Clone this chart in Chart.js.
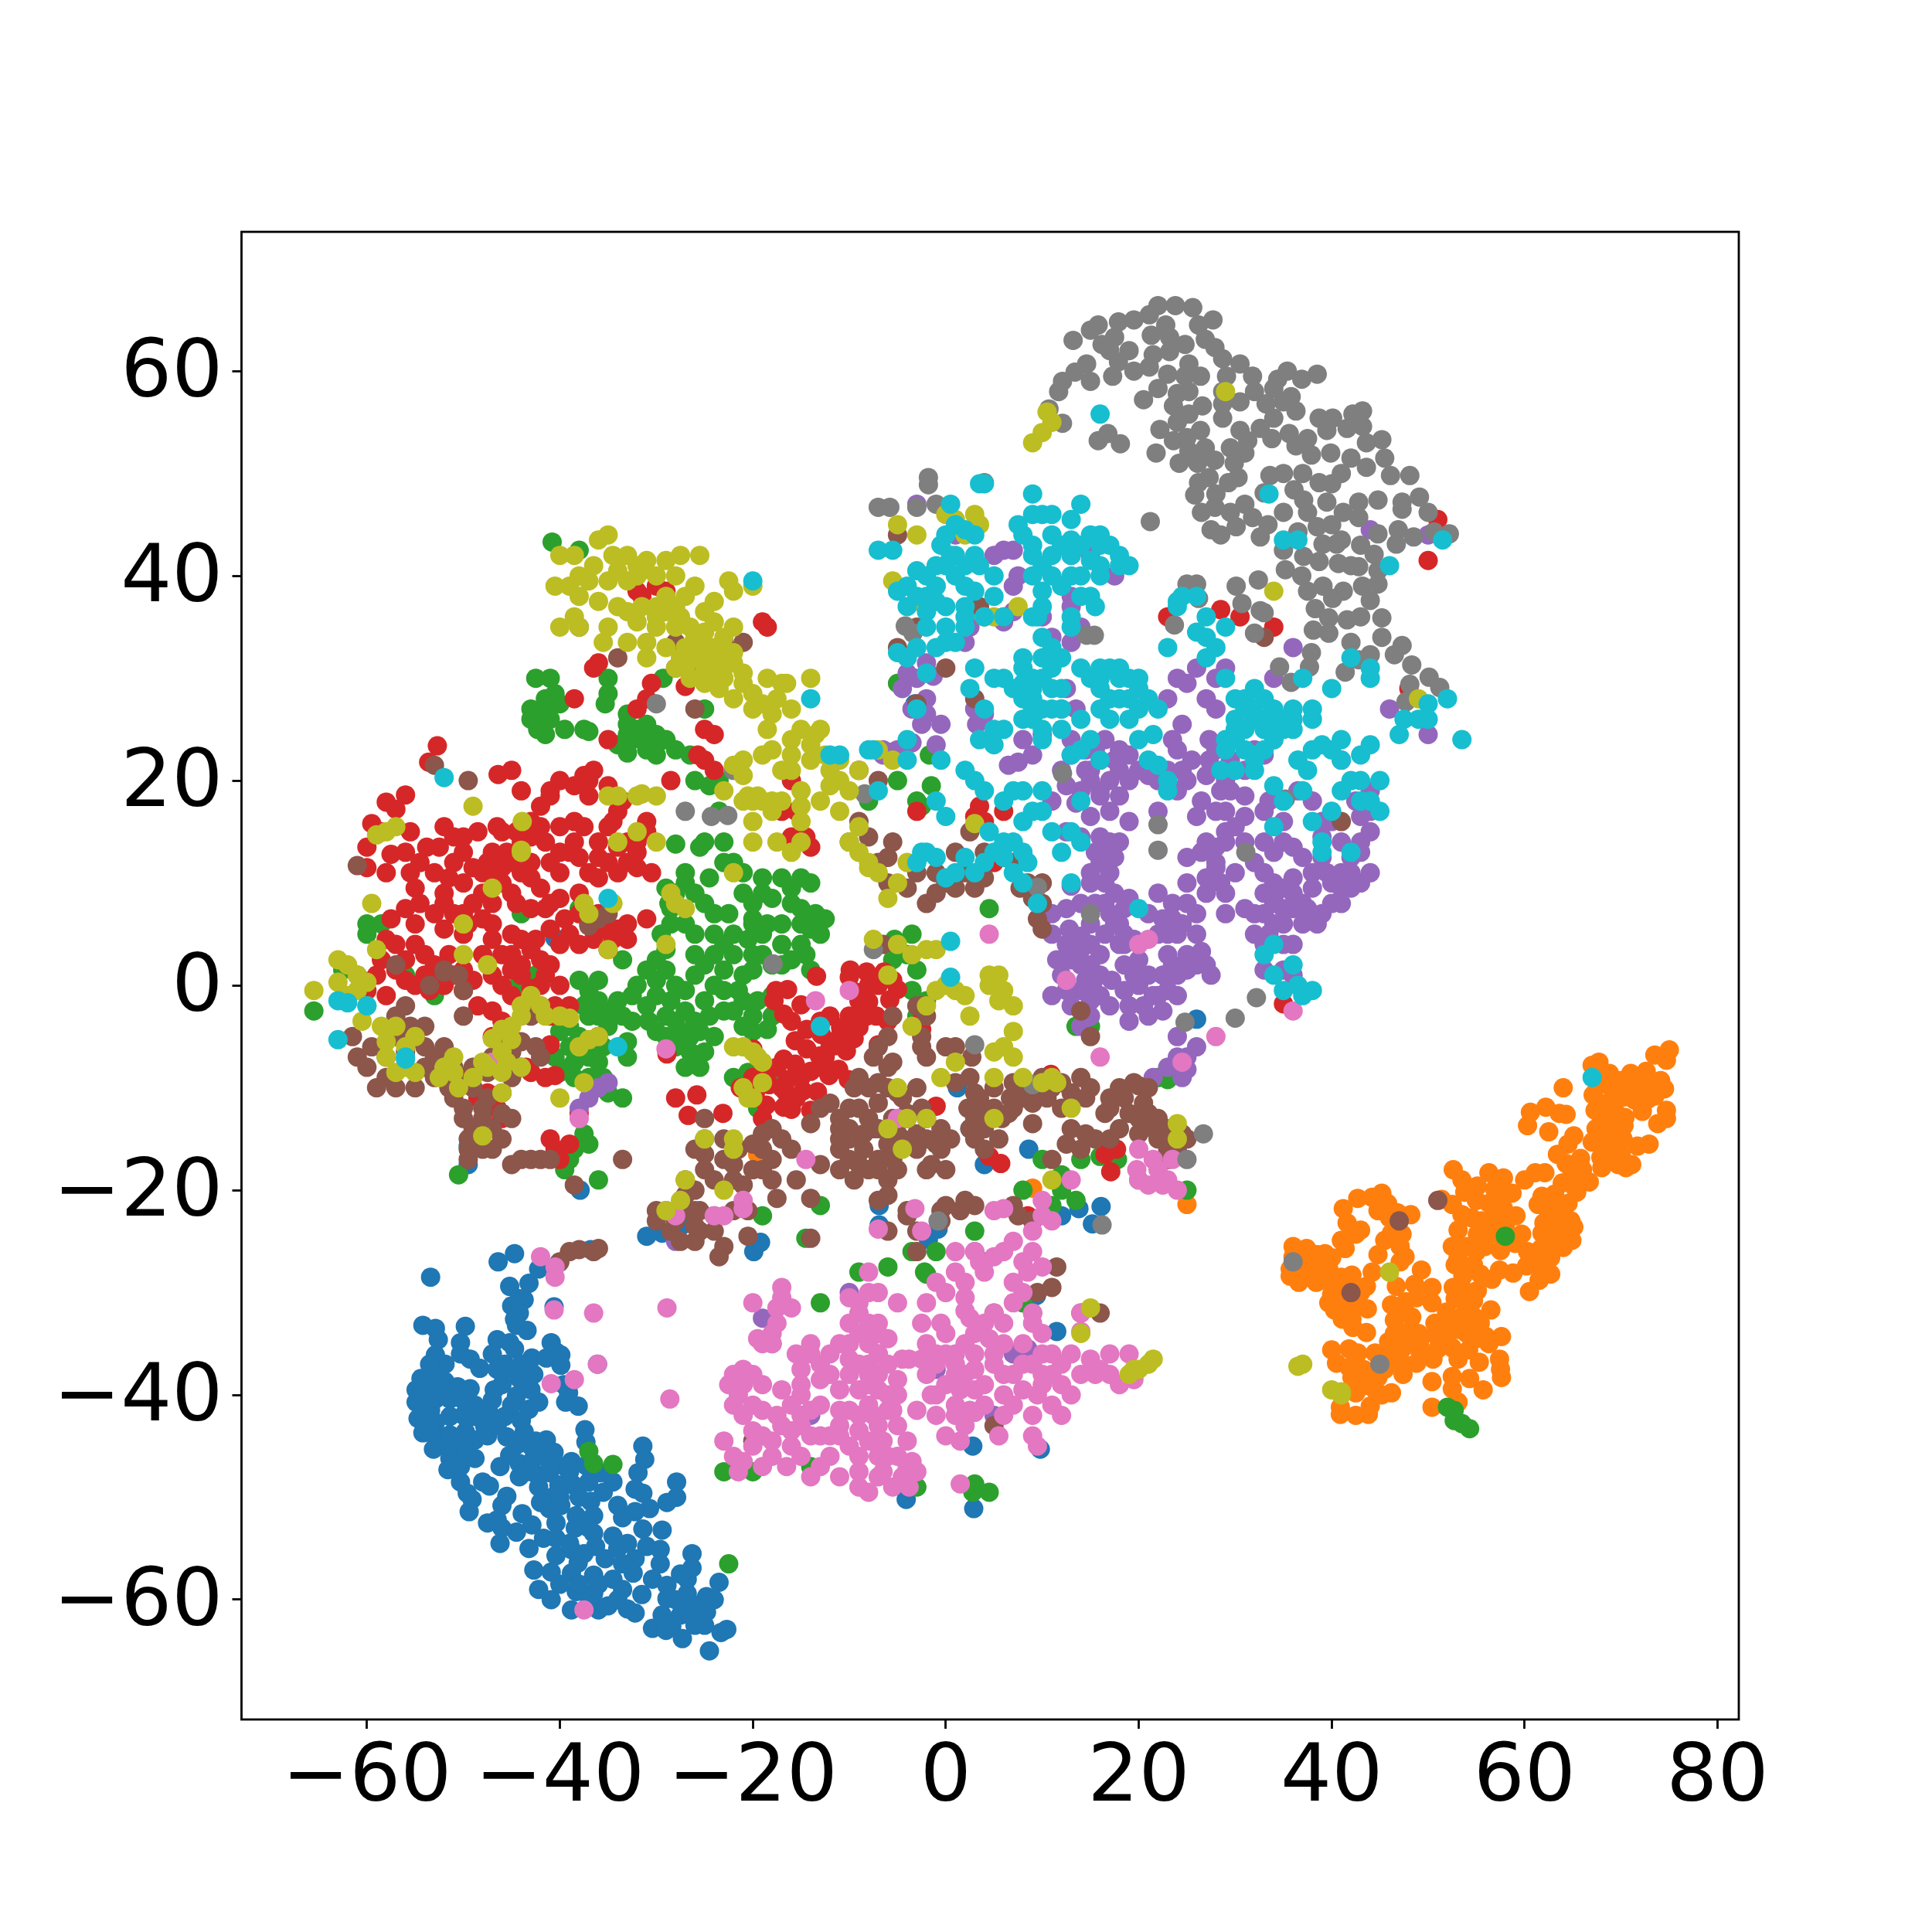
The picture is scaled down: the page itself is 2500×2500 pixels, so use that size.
<!DOCTYPE html>
<html>
<head>
<meta charset="utf-8">
<script src="https://cdn.jsdelivr.net/npm/chart.js@4"></script>
<style>body{margin:0;background:#fff}</style>
</head>
<body>
<canvas id="tsne" width="2500" height="2500"></canvas>
<script>
const xTicks = [-60,-40,-20,0,20,40,60,80];
const yTicks = [-60,-40,-20,0,20,40,60];

const blue = [[-44.7,-26.2],[-46.4,-27],[-42.2,-27.7],[-40.1,-27.1],[-36.8,-25.8],[-53.4,-28.5],[-43.2,-29.1],[-45.2,-29.4],[-44.2,-30.6],[-45,-31.3],[-43.7,-30.7],[-44.2,-32],[-44.7,-32.6],[-43.4,-33.7],[-44.5,-33.2],[-54.2,-33.2],[-52.9,-33.5],[-52.6,-34.6],[-49.8,-33.3],[-50.3,-34.9],[-50.3,-36],[-49.3,-36.5],[-52.9,-36.1],[-51.9,-37],[-46.5,-34.6],[-45.2,-34.9],[-47,-36],[-48.3,-37.4],[-45.7,-37],[-44.7,-35.5],[-40.9,-34.9],[-40.4,-35.8],[-42.9,-36.4],[-41.4,-36.4],[-39.9,-36.1],[-39.9,-37.1],[-42.7,-38],[-44.2,-38.4],[-46.8,-39.5],[-46,-39],[-44.5,-40.1],[-45,-41],[-42.2,-40.7],[-43.2,-41.4],[-39.6,-39],[-39.1,-39.8],[-39.4,-40.7],[-38.1,-41.1],[-54.4,-38.4],[-52.9,-37.8],[-54.9,-39.5],[-54.9,-40.7],[-53.4,-39.2],[-51.9,-38.7],[-50.6,-39.2],[-49.3,-39.4],[-52.9,-40.4],[-51.4,-40.4],[-53.4,-41.5],[-54.7,-42.3],[-52.9,-42.7],[-51.4,-42.1],[-54.2,-43.7],[-52.9,-44.1],[-53.1,-45.3],[-51.4,-43.9],[-48.8,-41],[-48.8,-42.1],[-47.3,-41.8],[-45.7,-42.1],[-49.8,-43.6],[-47.8,-43],[-48.8,-44.4],[-50.3,-45.3],[-48.8,-46.2],[-51.4,-46.2],[-51.6,-47.3],[-50.3,-47],[-50.3,-48.5],[-49.6,-49.6],[-48,-48.5],[-47.3,-48.9],[-49.1,-50.2],[-49.4,-51.4],[-45.5,-44.1],[-43.7,-43.6],[-41.4,-44.4],[-44.5,-44.9],[-40.6,-45.6],[-45.2,-45.9],[-46.2,-47],[-44.2,-46.7],[-42.7,-46.2],[-38.8,-46.5],[-37.3,-46.9],[-37.4,-43.4],[-37.3,-44.6],[-35.8,-47.6],[-34.5,-48.5],[-31.4,-45],[-31.2,-46.3],[-31.9,-47.6],[-27.9,-48.5],[-32.2,-49.2],[-31.4,-49.6],[-27.9,-50],[-28.9,-50.5],[-30.7,-51.1],[-42.7,-47.6],[-41.1,-47.6],[-44.2,-48],[-40.1,-48.8],[-38.6,-48.8],[-42.2,-49],[-40.6,-49.9],[-41.1,-51.1],[-39.9,-50.8],[-36.8,-50.4],[-36.5,-51.8],[-38.3,-51.8],[-40.4,-52.5],[-38.4,-53],[-45.5,-49.9],[-46,-50.8],[-43.9,-51.6],[-46.5,-52.2],[-47.5,-52.5],[-42.9,-52.7],[-44.5,-53.4],[-46.2,-54.5],[-43.2,-55],[-41.7,-54],[-40.4,-54],[-36.5,-53.5],[-34.5,-53.8],[-33.5,-52],[-34,-50.8],[-32.2,-51.4],[-31.4,-53.1],[-29.4,-53.2],[-29.6,-55.1],[-32.2,-56],[-29.6,-56.5],[-26.3,-55.5],[-26.3,-56.9],[-38.8,-55.1],[-40.4,-55.7],[-36.3,-54.8],[-35.3,-56],[-38.1,-56.4],[-42.7,-57.1],[-40.9,-57.3],[-38.8,-57.4],[-36.5,-57.6],[-34.5,-58],[-32.4,-57.4],[-30.4,-58],[-28.9,-58.6],[-26.8,-58],[-23.5,-58.3],[-42.2,-59],[-40.9,-60],[-38.3,-59.2],[-36.5,-59.4],[-35,-60.6],[-38.8,-61],[-36,-61],[-33,-60.9],[-32.2,-61.3],[-28.9,-59.9],[-26.8,-59.4],[-24.8,-59.7],[-24,-60],[-29.4,-61.5],[-26.8,-60.9],[-24.8,-61.2],[-30.4,-62.8],[-28.4,-62.6],[-26,-62.5],[-27.3,-63.8],[-23.3,-63.2],[-22.7,-62.9],[-24.5,-65],[-4.1,-50.2],[2.9,-51.1],[2.8,-45],[9.8,-45.3],[11.5,-33.8],[-1.8,-24.8],[15.2,-23.3],[16.1,-21.6],[13.8,-21.8],[-27.3,-23.4],[-29.4,-24.2],[-19.9,-26],[-19.2,-25.1],[-6.9,-23.4],[12,-22.5],[9.4,-30.3],[-40.6,-31.4],[-36.1,-37],[-40.5,4.6],[-49.5,-17.5],[-49.5,-15.7],[-37.9,-20],[1.2,-10],[26,-3.3],[-3.2,27.5],[2.5,-14],[8.6,-16],[4,-17.5],[-0.8,-23.8],[-6.9,-21.5],[-31,-24.5],[-53.5,-37],[-52,-39.5],[-53.5,-40.5],[-50,-40.5],[-50,-42],[-53.5,-43],[-51.5,-45],[-49.5,-46],[-50,-44.5],[-47,-40.5],[-47.5,-44],[-46.5,-43],[-44,-42.5],[-43,-45],[-41.5,-46],[-42.5,-44.5],[-39.5,-47],[-41,-47],[-43.5,-47.5],[-39,-47.5],[-37,-48.5],[-40,-50],[-38,-50],[-35.5,-49.5],[-42,-50.5],[-37,-53],[-39,-54.5],[-37.5,-55.5],[-34,-55],[-33,-54.5],[-31,-54.8],[-33.5,-56.5],[-36,-58.5],[-40,-58.5],[-38,-58.5],[-33.5,-59],[-31.5,-59.5],[-34,-60],[-37,-60.5],[-27.5,-57.5],[-27.5,-61.5],[-25.5,-60.5],[-25,-62.5],[-26.5,-61.5],[-28,-60],[-29,-63],[-45,-37.5],[-44,-37],[-43,-39.5],[-46.5,-37.5],[-46,-53]];

const orange = [[75,-6.3],[73.5,-6.8],[74.7,-7.3],[67.7,-7.5],[67,-7.8],[68.8,-8.6],[71,-8.6],[70,-9.3],[72.6,-8.4],[74.1,-9.3],[74.5,-10.1],[73.1,-9.8],[71.6,-9.8],[69.1,-10.1],[67.6,-9.8],[67.1,-10.7],[70.3,-10.9],[72.8,-11.1],[71.4,-11.2],[68.5,-11.5],[67.3,-12.2],[72.2,-12.3],[70.4,-12.9],[68,-12.9],[74.7,-12.2],[74.7,-13],[73.8,-13.5],[67.4,-14],[68.8,-14],[70.3,-13.7],[67,-15.3],[68.9,-15.1],[70.2,-15],[72.9,-15.5],[71.7,-15.7],[69.7,-17.5],[70.5,-17.8],[71.1,-17.5],[68,-17.8],[67.9,-16.8],[64,-10],[60.6,-12.4],[62.2,-11.9],[63.6,-12.5],[64.3,-12.6],[60.3,-13.7],[62.5,-14.3],[65.1,-14.7],[64.5,-15.5],[63.4,-16.5],[65.8,-16.9],[64.3,-17.4],[66.7,-19.2],[64.9,-18.5],[63.9,-19.3],[65.4,-20.2],[62.1,-18.3],[61.1,-18.3],[60,-19],[61.8,-20.6],[63.1,-20.4],[61.4,-21.4],[64.5,-21.3],[62.8,-21.8],[62,-23.2],[64.8,-23],[63.3,-23.5],[65.1,-23.6],[61.8,-24.2],[63.1,-24.9],[64.9,-24.9],[64,-25.6],[61.7,-25.7],[60.3,-26],[62.7,-26.6],[60.2,-27.4],[62.7,-28.2],[61.5,-28.8],[60.5,-29.9],[58.8,-28.1],[57.4,-27.8],[56.6,-28.7],[52.6,-18],[53.5,-19],[56.3,-18.3],[57.8,-18.8],[51.4,-20.9],[52.5,-21.4],[53.8,-20.2],[55.1,-19.6],[56.9,-19.9],[58.7,-20.3],[53.5,-22.4],[54.5,-22.7],[56.3,-21.3],[57.8,-21.8],[59.1,-22.5],[56.6,-22.9],[53.1,-23.9],[55.1,-24.3],[56.9,-24.2],[59.7,-24.3],[52.5,-25.5],[53.9,-25.5],[55.9,-25.5],[57.5,-25.9],[59,-25.2],[53.1,-26.6],[52.8,-27.3],[54.7,-27.3],[53.6,-28.4],[55.4,-28.2],[52.6,-29.5],[55.1,-29.8],[53.9,-29.9],[54.7,-30.8],[52.8,-30.6],[56.5,-31.7],[54.8,-32.4],[53.4,-32.4],[51.9,-31.9],[50.4,-31],[55.4,-33],[50.7,-33],[52.3,-33.1],[53.1,-33.6],[50.7,-34.1],[51.9,-34.4],[56,-34.3],[57.6,-34.3],[56.3,-35],[52.5,-35.4],[51,-35.5],[54.2,-35.6],[57.4,-36.5],[55.3,-36.8],[53.1,-36.5],[57.5,-37.5],[57.6,-38.3],[52.5,-38.2],[54.3,-38.4],[55.7,-39.5],[50.4,-38.7],[52.5,-39.4],[53.1,-40.7],[50.4,-41.2],[49.3,-27.8],[50.4,-29.5],[48.6,-29.2],[46.2,-31.2],[47.7,-30.9],[48.8,-30.5],[46.5,-32.7],[48.3,-32.4],[46.5,-34],[48,-33.8],[45.9,-34.8],[49.1,-35],[47.4,-35.4],[49.2,-35.9],[48.8,-36.9],[47.4,-38],[44.5,-35.9],[46.5,-36.9],[44.8,-38.3],[46.2,-39.8],[45.2,-40],[40,-35.6],[41.8,-35.5],[42.7,-35.9],[40.5,-36.9],[41.8,-37.3],[43.3,-37.5],[42.1,-38.3],[43.3,-39.1],[42.5,-39.8],[40.9,-41.2],[40.9,-41.9],[42.5,-42],[43.8,-41.9],[44,-41.1],[42.7,-20.8],[41.2,-21.8],[44.2,-20.7],[45.2,-20.3],[45.8,-21.3],[44.8,-22],[46.8,-22.2],[48.2,-22.4],[46,-22.7],[41.6,-23.2],[43,-23.9],[47.3,-24.3],[46.2,-24.2],[41,-24.9],[42.5,-24.3],[45.5,-24.9],[47.1,-25.5],[41.4,-25.7],[44.8,-26.3],[47.6,-26.5],[47.1,-27],[36,-25.5],[37.4,-25.7],[38.5,-26.3],[39.3,-26.2],[40,-26.6],[35.7,-27.7],[35.7,-28.4],[37.1,-27.4],[36.6,-29],[38.4,-28],[38.4,-29],[39.7,-27.7],[42.1,-28.3],[44.2,-28],[43.6,-29.4],[46.7,-29.4],[40.6,-29.2],[42.1,-29.9],[40,-30.2],[39.7,-31],[41.2,-31],[42.4,-31],[43.7,-31.6],[40.3,-31.7],[41.1,-32.6],[42.1,-32.6],[42.2,-33.4],[43.6,-33.9],[36,-26.5],[25,-21.4],[9,-19.8],[-19.5,-16.5],[69.5,-11],[70.5,-10],[72,-10.5],[73.5,-10.8],[69.5,-12.5],[69,-13.5],[69.5,-15],[68,-15.5],[69,-16.5],[70,-16.5],[66,-18],[65,-19.5],[63,-21],[64,-22.5],[62.5,-22.5],[63.8,-24],[62.5,-25],[61.2,-26.5],[61.5,-27.5],[55,-21],[55.5,-23],[58,-23.5],[58,-20.5],[55,-26],[53.5,-30.5],[54,-31.5],[52.5,-32.5],[54,-34],[55,-34.5],[50.5,-36.5],[49,-34],[47.5,-32],[47,-34.5],[46,-36],[47.5,-37],[45.5,-37.5],[45,-37],[42.5,-37],[43,-38.3],[44.5,-39.5],[37.5,-28.5],[39,-28.8],[41,-28.5],[41,-30.5],[43,-30],[37,-26.8]];

const green = [[-40.8,43.3],[-38,42.5],[-42.5,30],[-41,30],[-40.5,28.5],[-41.5,28],[-43,27],[-40,27.5],[-41.5,27],[-42,25.5],[-41.5,24.5],[-42.3,25],[-39.5,25],[-37.5,25],[-37,24.8],[-35,30],[-35,28.5],[-35.3,27.5],[-33,26.5],[-33,25.5],[-32.5,24],[-31,25.5],[-34,23.5],[-33,22.7],[-31,23],[-30,24.5],[-29,24],[-28,23],[-30,22.5],[-26.5,22.5],[-24,31.5],[-29.3,30],[-25,27],[-22,21.3],[-26,20],[-24.5,19.5],[-23.5,20],[-23.5,17],[-25,14],[-23,12],[-28,13.8],[-25.5,13.5],[-27,11],[-29,9.5],[-28.5,7.5],[-27,10],[-26,9],[-24.5,10.5],[-25,8],[-24,7],[-26,5],[-23,4],[-22.5,7],[-21,11],[-19,10.5],[-17,10.5],[-15,10.5],[-14,10],[-20,8],[-18,8.5],[-16,8],[-20,6.5],[-18.5,6],[-15,7.5],[-13.5,7],[-12.5,6.5],[-13,5],[-22,5],[-20.5,4.5],[-19,5],[-17,4],[-15,4],[-14.5,3],[-14,1.5],[-19,3],[-20,1.5],[-17,2],[-16,2.5],[-28.7,8],[-28.5,6],[-29.5,5],[-29,3.5],[-30,2.5],[-31,1.5],[-33.5,2.5],[-30,0.5],[-32,0],[-30,-1],[-32.5,-1],[-28.5,-1.5],[-27,-0.5],[-26,1],[-25,2],[-23,1.5],[-21,1],[-27,-2.5],[-25,-1.5],[-23,-0.5],[-21.5,-0.5],[-19.5,-1.5],[-18,-1],[-29,-3],[-30,-4.5],[-27.5,-4.5],[-26,-3.5],[-24.5,-3],[-22,-2.5],[-20,-3],[-18,-3],[-30.8,-3.5],[-32.5,-3.5],[-28,-6],[-26.5,-6.5],[-25,-6.5],[-27,-8],[-25.5,-8],[-24,-5],[-20,-4.5],[-18.5,-4.3],[-38,0.5],[-37,-0.5],[-36,0.5],[-36,-1.5],[-35,-2.5],[-34,-1.5],[-33.5,-3],[-35,-4],[-36,-5],[-37,-3],[-39.5,-3],[-39,-4],[-38,-5],[-39,-6],[-40.5,-7],[-38.5,-7.5],[-37,-7],[-40,-8.5],[-38.5,-9],[-37,-9],[-35.5,-9],[-40,-4.5],[-33,-5.5],[-33,-7],[-35,-10.5],[-33.5,-11],[-37.5,-14.5],[-37,-15.5],[-38.5,-16],[-39,-17],[-39.5,-18],[-36,-19],[-50.5,-18.5],[-53,-1],[-56,1],[-60,5],[-60,6],[-58.5,6],[-65.5,-2.5],[-62.5,1.5],[-61,1],[-44,7],[-38,7.5],[-44.5,-0.2],[-42.5,1],[-21,-9.5],[-20.5,-8.5],[-18,-9],[-19.5,-12],[-22,-9],[-25,-15],[-3,-3],[-2,-1.5],[-3.5,-0.5],[-4,3],[-5.5,2.5],[-5.3,4.5],[-3,1.5],[-3.5,5],[-10,14],[-8,18],[-5,20],[-3,18],[-2.5,17.5],[-1.5,19.5],[-1.7,22.5],[-5,29.5],[4.5,7.5],[-1,-26],[3,-48.7],[4.5,-49.5],[-3,-49],[-3.5,-26],[-2.2,-28],[-20,-47.5],[-14,-47],[-4.5,-48.5],[2.8,-49.5],[11,-21.5],[13.5,-21],[12,-20],[16,-16.7],[14,-17],[10,-17],[12,-18.5],[17.8,-17],[20,-19],[25,-20],[23,-9.2],[22,-9],[15,-4],[13.5,-4],[58,-24.5],[52,-41.2],[52.7,-42.5],[52.7,-41.5],[53.5,-42.8],[54.3,-43.3],[-22.5,-56.5],[-36.5,-46.7],[-34.5,-46.8],[-37,-45.5],[-23,-47.5],[-13,-31],[-2,-28.2],[5,-32],[8,-31],[3,-24],[-13,-21.5],[-14.5,-24.7],[-19,-22.5],[8,-20],[-6,-27.5],[-9,-28],[-28,9],[-27,6],[-26,3],[-24,3],[-22,3],[-20,3],[-18,2],[-17,6],[-21,9],[-19,9],[-16,9.5],[-15,6],[-14,5.5],[-20,6],[-24,5],[-21,-1.5],[-24,0],[-28,0],[-29,1.5],[-31,-2],[-28,-3.5],[-25.5,-4.5],[-23,-2.5],[-21,-4],[-26.5,-5],[-29,-5],[-37.5,-2],[-36,-3],[-37.5,-6],[-39,-8],[-36,-7.5],[-35.5,-6],[-37,-1.5],[-42,26.5],[-41,26],[-43,26],[-33,24.5],[-31.5,24],[-30,23.5],[-32,25],[-23,14],[-22,12]];

const red = [[-52.7,23.4],[-53.6,21.8],[-46.4,20.6],[-56,18.6],[-58,17.9],[-57,17.2],[-59.5,15.8],[-58.5,15],[-60,13.5],[-56,13],[-57.5,12.8],[-54.5,12],[-53.8,13.5],[-60,11.5],[-58,11],[-55.5,11],[-55,9.5],[-56,7.5],[-57.5,6.5],[-55,6],[-58,4.5],[-57,4],[-58.5,2.5],[-57,1.5],[-59,1],[-56,0.5],[-54,3],[-53,2],[-51.5,3],[-50,1.5],[-55,0],[-52,0],[-53.5,-0.5],[-50,-0.5],[-51,1],[-49,0.5],[-60,-0.5],[-58,-1],[-60.5,0.5],[-55.5,15],[-52,15.5],[-51,14.5],[-50,13],[-52.5,13.5],[-51,12],[-49,11.5],[-47,13],[-46,15],[-44.5,15],[-43,16],[-42,17.5],[-41,18.5],[-44,14],[-45.5,13],[-40,15.5],[-38.5,16],[-37,18.5],[-37.5,15.5],[-39,13],[-38,12.5],[-37,11],[-36,10.5],[-33,14],[-32,14],[-31,16],[-31,15],[-30.5,11],[-32,13],[-34,17],[-34.5,16],[-33.5,18],[-35,19.5],[-37,20],[-38.5,19.5],[-40,20],[-36.5,21],[-37.5,20.5],[-41,19],[-46,10],[-45,9],[-47,8],[-48,9],[-49,8],[-50,7],[-52,8],[-53,7],[-54.5,8],[-52,5.5],[-50,5],[-48,6.5],[-48,3],[-47,4.5],[-45,5],[-46,3],[-44,4.5],[-44,2],[-42,2.5],[-41,2],[-47,11],[-43,12],[-41,12],[-40,11],[-43,10.5],[-42,9.5],[-40,8.5],[-38,9],[-36,7],[-37,6],[-36.5,4.5],[-38,4],[-39,5],[-41,5.5],[-40,4],[-41.5,7.5],[-35,3.5],[-34.5,4.5],[-33,6],[-31,6.5],[-42,0],[-40,0],[-43,-1.5],[-45,-1],[-44,1],[-40.5,-2],[-39,-2],[-43.5,-8],[-43,-8.5],[-41,-5.8],[-41,-3],[-48.5,-2],[-47,-2.5],[-46,-3.5],[-47,-5],[-46.5,-5.5],[-36,-5],[-46.5,-12],[-46,-13],[-43,-2.8],[-41.5,-9],[-40.5,-8.8],[-46.5,-8],[-49.5,-8.8],[-48.5,-11],[-47.5,-10.5],[-41,-15],[-40.5,-16],[-40,-17],[-39,-15.5],[-38,-12.5],[-28,31],[-36.5,31],[-36,31.5],[-38.5,28],[-32,27],[-31,28],[-30.5,29.5],[-27,29.2],[-26.5,30.5],[-25,25],[-24,24.5],[-25.7,22.5],[-24,21],[-25,22],[-18.5,35],[-19,35.5],[-32,38.5],[-29,38.5],[-30,39],[-31.5,38],[-16.5,21],[-16,20],[-17,17],[-15.5,17],[-16,14.5],[-15,14],[-14,13.5],[-14.5,14.5],[-45,21],[-44,19],[-35,24],[-28.5,20],[3.5,17.5],[3,16.5],[-9.9,1.5],[-8.2,1.3],[-6.4,1.3],[-10,0.8],[-5,-0.4],[-9.5,-0.6],[-5.8,-1.4],[-9,-1.5],[-8,-1.6],[-13.4,0.9],[-17.6,-0.5],[-16.4,-0.4],[-17.8,-1.5],[-15,-1.9],[-16.8,-2.8],[-16,-3.5],[-10,-3],[-8.2,-3],[-7.2,-3],[-10.9,-4.1],[-9,-4.1],[-14.4,-4.3],[-12.9,-4.8],[-15.6,-5.4],[-9.5,-5.2],[-7,-5.8],[-11.5,-5.9],[-14.4,-6.2],[-16.8,-7.2],[-13.1,-6.9],[-10.3,-6.4],[-15.6,-7.7],[-12.1,-8.8],[-11.1,-8.2],[-10.1,-9.2],[-18.5,-8.4],[-16.4,-9.2],[-14,-8.4],[-18.3,-9.7],[-19.7,-10.4],[-21.3,-10],[-16.6,-10.4],[-14.8,-10.3],[-13.3,-10.4],[-18.6,-11.7],[-16.8,-11.9],[-16,-12.1],[-14,-12.2],[-19,-13],[-25.8,-10.7],[-28,-11],[-26.7,-12.7],[-23.1,-12.5],[-20,-6.2],[-28.9,-6.7],[-2.5,-3.4],[-2.5,-4.3],[-1,-11.8],[4.5,-16.7],[5.7,-17.4],[10.9,-8.7],[17.7,-16],[17.1,-18.2],[16.5,-16.5],[5,12],[6,17],[23,36],[28.5,36.7],[30.5,36],[35,-1.8],[34,35],[48,29],[50,41.5],[51,45.5],[-3,17],[4,16],[-20,-9],[8.5,-22.5],[-50,14.5],[-48.5,15],[-46.5,15.5],[-47.5,12],[-45,12],[-44,11],[-50,10],[-51.5,10.5],[-53,11],[-52,9],[-44.5,8],[-43,7.5],[-41,8],[-39.5,6.5],[-38,7],[-35.5,5.5],[-34,5.5],[-33,4.5],[-45,3],[-43,3.5],[-42.5,4.5],[-47,1],[-45,1.5],[-46,0],[-43,-0.3],[-41.5,1],[-52.5,1.5],[-54,1],[-56,2.5],[-55,4],[-36,12.5],[-35,12],[-34,11],[-33,12],[-32,11.5],[-36,14],[-35,15.5],[-34,13.5],[-38.5,14],[-40,13],[-41.5,14],[-43,14.5],[-42,15.5],[-44,15.5],[-48,11],[-46,11.5],[-51,7],[-49.5,6],[-47,6],[-13,-3.5],[-12,-3],[-12,-6],[-13,-8],[-15,-9],[-12.5,-7],[-11,-5],[-8.5,-2],[-8,0],[-17,-10],[-15.5,-11],[-17.5,-8],[-7,0],[-5.5,0.5],[-6,-3.5]];

const purple = [[-4,30.5],[-3,30],[-4.5,29],[-2,31.5],[-1.3,30.2],[-2,28],[-2,26.5],[-0.5,25.5],[-2.5,25.5],[-3.5,27],[-1,23.5],[-5,23],[-5.5,22.8],[-3.5,23.7],[1,44],[3.2,25.5],[4,26.5],[3,27],[5,42],[6,42.5],[7,42.5],[6,35.5],[7,39],[7.5,40],[2.5,35],[2,33.5],[8,24],[10,24.5],[12.5,29],[12,27],[9,22.5],[7.5,21.8],[6.5,21.5],[7,36.5],[13,42],[15,42],[17.5,40],[14,35],[13,33.5],[13.5,27],[13,24],[13,22.5],[14.5,21],[12,21],[11,18],[12.5,19.5],[14.5,23],[15.5,23],[16.5,24],[17.5,22],[18,21],[19,22.5],[20,21],[21,20.5],[15,21],[14,19],[16,18.5],[18,18.5],[13.5,17.8],[15,16.5],[17,17],[19,16],[12.5,15],[14,14.5],[16,14.5],[16.5,13],[18,14],[16,12],[15,11],[17,11],[17.5,9],[16.5,8],[15,10],[13,9.7],[14,8],[18.5,7.5],[19,8.5],[17,7],[15,6],[15,4],[16.5,5],[18,6],[18.5,5],[18,4],[14,3.5],[15,2],[11,7],[12.5,7.5],[12.8,5.5],[11,5],[12.5,4],[13,2.5],[14.5,0.5],[16,1],[14,-0.5],[14,4.8],[11.5,2.5],[12,1],[11,-1],[13,-2],[14,-4],[15,-3],[15.2,0],[18.5,4],[19.5,4.5],[20,2.5],[18.5,2],[17.2,0.5],[16,-1],[18.5,-0.5],[20,0],[21,1],[19,-2],[20.5,-2],[22,-1],[23,-0.5],[22.5,-2.5],[21,-3],[19,-3.5],[24,1],[25,1.5],[24,-1],[22,5],[22.5,6.5],[21,7],[23,5],[24,5],[23.5,8],[22,9],[23,3],[25,3],[26.5,3.3],[26,5],[27,2],[27.5,1],[24,-5],[26,-6],[25,-7],[24,-7],[23,-8],[21.5,-9],[25,-8.2],[24.5,-9],[33,1.5],[35,1.5],[36,1],[27,9],[25,8],[25,10],[27,10.5],[28,11.5],[26.5,13],[25,12.5],[27,14],[28,13.5],[29,14],[31,14],[32,12],[30,11],[28.5,10],[29,9],[26,7],[29,7],[33,14],[34,13],[22,17],[22,20],[23,21],[24,23],[24.5,25.5],[23.5,24],[25.5,22],[27,20.5],[25,20],[27.3,22],[27.3,24],[28.5,19],[26.5,18],[29.5,19],[31,18.5],[33.5,18],[31,21],[29.5,22],[33,22.5],[34,24],[34.3,26],[29,17],[31,16.5],[33,17],[35,16],[26,16.5],[30,24],[28,27],[27,28],[25,29.5],[23,28],[28,30],[26,31],[24,30],[35,18],[38,18],[39,16],[36.5,19],[35,14],[36,13.5],[37,12.5],[39,12.5],[38,11],[39.5,11],[41,11],[42,12.5],[41,14],[43,13],[44,15],[43,16.5],[42.5,18],[44,19],[40,16],[36,10.5],[34,10],[33,9],[31,7.5],[33,7],[35,9.5],[37,8],[34,6],[32,5],[33,4],[36,4],[35,6],[38,9.5],[36,7.5],[40,8],[39,7],[37.5,7.5],[41,8],[42,9.5],[43,10],[44,11],[-37,-11],[-36,-10],[-35,-9.5],[-38,-12],[29,31],[32,23],[34,30],[36,33],[10,36],[11,34],[-3,47],[13,37],[13,38],[50,24.5],[44,44.5],[50,44],[46,27],[41,22],[-6.5,22.5],[-6.5,23],[-14,-42],[5,-42],[7,-36],[8.5,-35.5],[-10,-30],[-7,-36],[-19,-32.5],[-18,-35],[3,-26],[4,-27],[-1,-37.5],[-28,-25],[33,11],[34,8],[32,7],[35,7.5],[33.5,5],[35,4],[37,6],[38.5,6],[34,8.5],[36,9],[16,19],[17,20],[18,23],[16,22],[15,20],[19,20],[17,14],[15.5,13],[17.5,12.5],[16.5,10],[15.5,8],[17.5,6],[16,3],[14,2],[12.5,-0.5],[17,-2],[15,-1.5],[19.5,1],[22.5,1],[21.5,-1],[23.5,6.5],[24.5,6],[23.5,2],[26,2],[29,15],[28,12],[30,15.5],[28,17],[24,19],[24.5,21],[28,23],[29,20],[41,9.5],[40,10],[42,11],[43,14],[39,14.5],[44,17]];

const brown = [[-61,11.7],[-53,21.5],[-49.5,20],[-57,2],[-52,1.3],[-53.5,0],[-50,-0.5],[-50.5,1],[-52,1.5],[-61.5,-5],[-59.5,-6],[-61,-7],[-60,-8],[-58,-7],[-57,-5],[-57,-3],[-55.5,-4],[-56,-2],[-55,-5],[-58,-9],[-59,-10],[-57,-10],[-55,-10],[-53,-9],[-53,-7],[-52,-6],[-51,-8],[-50,-9.5],[-49,-10],[-49,-8],[-47.5,-8.5],[-47.5,-11],[-51.5,-10],[-51,-11],[-50,-12],[-50,-13],[-49,-14],[-48,-13],[-47,-14],[-45,-13],[-49.5,-15],[-49.5,-16],[-49.5,-17],[-48,-16],[-44,-17],[-45,-17.5],[-43,-17],[-42,-17],[-41,-17],[-47,-7],[-46,-6],[-45,-6.5],[-44,-8],[-45,-9],[-46,-10.5],[-43,-3],[-42,-7],[-42.5,-6],[-44,-5.5],[-50,-3],[-54,-4],[-42,-2],[-37,5.8],[-36,6.5],[-35,7],[-33.5,-17],[-38.5,-19.5],[-15.5,-19],[-11,-16],[-18,-14],[-17,-15],[-16,-16],[-13,-17.5],[-11,-18],[-10,-15],[-8.5,-14.5],[-14,-13.5],[-13,-12],[-12,-11.5],[-10,-12],[-10,-14],[-8,-13],[-9.5,-10],[-8,-10],[-7,-9.5],[-6,-10],[-5,-10.5],[-4.5,-11],[-4,-13],[-4,-12.5],[-5.5,-13],[-7.5,-7],[-7,-6],[-6,-5],[-5.5,-3],[-5.5,-7.5],[-6,-8],[-3,-10],[-2.5,-12],[-2,-13],[-3,-14.5],[-5,-16],[-7,-14],[-2,-15],[-1,-15.5],[-0.5,-16],[-2,-7],[-2.5,-6],[-2.5,-5],[-2,-3],[-2.5,-2],[-3,-2],[0,-6],[1,-6],[-11,-15],[-10,-17],[-9.5,-19],[-8,-18],[-7,-18],[-7.5,-14],[-7,-17],[-6,-19],[-5,-18],[-5.5,-17],[-2,-18],[-1.5,-17.5],[-25,-13],[-23,-15],[-23,-17],[-21.5,-16],[-20,-15.5],[-19,-14.5],[-18,-17],[-18,-19],[-19,-18],[-22,-17.5],[-25,-16.5],[-26,-16],[-27,-19],[-27,-20.5],[-26,-20],[-25.5,-22],[-27,-22],[-29,-22],[-30,-22],[-30,-23],[-28.5,-24],[-26,-22],[-25.5,-24],[-24,-24],[-26,-25],[-24,-22.5],[-22,-22],[-20.5,-22],[-20.5,-24.5],[-23,-25.5],[-23.5,-26.5],[-17.5,-20.8],[-14,-20.8],[-14,-24.7],[0,-18],[0.5,-15],[2.5,-14],[3,-13],[3,-15],[3.5,-14],[4,-16],[5,-12],[5.5,-15],[5.8,-13],[6.7,-11],[6.5,-12.5],[1,-9.5],[2.7,-7],[3,-10.5],[2.3,-12],[5,-10],[7,-9.5],[8,-10],[8,-11],[9,-11.5],[9,-13.5],[9.5,-10],[10,-9],[11,-10],[12,-9.5],[10.5,-11],[12,-12],[14,-9],[14.5,-11],[16.5,-12.5],[17,-12],[18.5,-11],[19,-12.5],[18,-14],[20,-13],[21,-12.5],[19.5,-9.5],[20,-9.8],[21,-10],[20.5,-11.5],[21.5,-14],[22,-15],[23,-16],[23,-17],[24,-16],[24.5,-14.5],[25,-15],[22,-13],[13,-14],[12.5,-15.5],[14.5,-14.5],[15.5,-15],[17,-15],[14,-16],[11,-17],[2,-21],[3,-21.5],[7,-21.5],[7.5,-22.5],[9,-23],[-4,-22],[-4,-22.5],[-3,-24],[-3,-26],[-0.5,-22],[-0.5,-23],[-6,-20.5],[-7,-21],[-6,-24],[9.5,-30],[9,-32],[11,-29.5],[11.5,-27.5],[16,-32],[14,-32],[-20,-44.5],[5,-43],[-36.5,-26],[-36,-25.7],[-38,-25.8],[-39,-26],[-40,-27],[51,-21],[6,36],[2.5,15],[1,13],[-1,11],[-3,11],[-4,9.5],[-6,12.5],[-5.5,14],[-8,14.5],[-7,12],[-6,10],[-2,8],[-1,9],[0,10],[1,9.5],[2,11],[3,9.5],[4,10.5],[4,13],[6,12.5],[7,12],[7.7,9.5],[8.5,10],[10,10],[9,8.5],[10,8],[9.5,6.5],[10,5.5],[-7,20],[-9,21],[-9,16],[-6.5,4],[-0.5,-14],[14,-2.5],[15,-5],[-26,27],[-38,35],[-34,32],[-21,33.5],[-23,33.5],[-28,33.5],[3,28],[-3,27.5],[-5,44],[-5,33],[-3,35],[0,31],[3.5,37],[33,34],[41,16],[47,-23],[42,-30],[-54,-6],[-56,-6.5],[-54,-8],[-52,-9],[-46,-12.5],[-48,-12],[-46,-15],[-47,-16],[-9,-12],[-7,-11.5],[-5,-14.5],[-8.5,-16],[-6,-15.5],[-4.5,-15],[-3,-16],[-9,-17.5],[-21,-19.5],[-24,-19],[-25,-18],[-22,-19],[-20,-18],[-19,-16],[-28,-23],[-26,-23.5],[-27.5,-25],[4,-14],[4,-12],[7,-12],[9,-10],[13,-10.5],[15,-10],[17,-11],[18,-10],[20,-14.5],[23,-14],[3.5,-11],[2.5,-9],[-11,-13],[-11,-14],[-9,-9],[0,-21.5],[1.5,-22]];

const pink = [[-40.6,-31.7],[-36.5,-32],[-28.9,-31.5],[-36.1,-37],[-40.9,-38.9],[-38.5,-38.5],[-28.6,-40.4],[-37.5,-61],[-42,-26.5],[-40.5,-27.5],[-40.5,-28.5],[-17,-29.5],[-17,-30.5],[-17.5,-31.5],[-17.5,-33],[-16,-31.5],[-18,-34],[-18,-35],[-19.5,-34.5],[-19,-35],[-21,-37.5],[-22,-38],[-22.5,-39],[-21,-39],[-20,-38],[-21.5,-40],[-22,-41],[-20,-41],[-21,-42],[-19,-41.5],[-19,-39],[-15.5,-36],[-14,-36],[-15,-37.5],[-13,-37],[-15,-39],[-13,-38.5],[-11,-39.5],[-10,-38],[-8,-38],[-9,-39.5],[-7,-39.5],[-5,-38.5],[-5,-40],[-10,-41.5],[-8,-41],[-6,-41.5],[-8,-30],[-7,-30],[-9,-31],[-9,-32],[-5,-31],[-8,-33],[-10,-33],[-7,-33],[-10,-35],[-8,-35],[-6,-34.5],[-7,-36],[-10,-36.5],[-8,-37],[-6,-37],[-4.5,-36.5],[-12,-36],[-3.8,-36.5],[-23,-44.5],[-22,-46],[-20,-43.5],[-20,-45],[-21,-46.5],[-19,-44],[-17,-43],[-15,-43],[-18,-46],[-16,-45],[-19,-47],[-21.5,-47.5],[-16.5,-47],[-15,-46],[-13,-44],[-13,-47],[-14,-48],[-12,-46],[-11,-48],[-13,-41],[-14,-41.5],[-15,-42],[-11,-41.5],[-11,-44],[-9,-43.5],[-7,-43],[-6.5,-44.5],[-5,-43],[-5.5,-41.5],[-10,-45],[-9,-46],[-9,-47.5],[-7,-46],[-7,-48],[-9,-49],[-8,-49.5],[-6.5,-47.5],[-5,-46],[-4,-44.5],[-4,-47],[-4.5,-48],[-3.5,-46.5],[-3,-47.5],[-3.8,-49],[-2,-31],[-2.5,-33],[-1,-29],[0,-30],[2,-30.5],[-0.5,-33],[2,-31.8],[0,-34],[-2,-35],[0,-36],[1,-36],[-2,-38],[-2.5,-36.5],[-1.5,-40],[0,-39],[2,-38],[3,-36],[3,-39.5],[1,-41],[-3,-41.5],[-1,-42],[1,-42],[2.5,-41.5],[2,-43],[3,-41.7],[0,-44],[1.5,-44.5],[4,-41],[6,-42],[7,-41],[5.5,-44],[1,-26],[1,-28],[2,-29],[4,-28],[3,-26],[5,-26.5],[6,-26],[7,-25],[8,-27],[9,-24],[10,-22.5],[11,-23],[9,-26],[8.5,-28],[7,-29],[7,-31],[8,-30],[9,-32],[9,-33],[10,-34],[5,-32],[4,-33],[6,-33],[8,-35],[10,-36],[5,-36],[6,-38],[3,-34],[9,-37],[11,-36],[11,-38],[9.5,-40],[12,-39],[13,-36],[13,-40],[14,-38],[15,-36.5],[15.5,-38],[17,-36],[17,-38],[19,-36],[19.5,-38.5],[18,-39],[-15,-40],[-10,-30.5],[12,-42],[11,-41],[9,-42],[9,-44],[-14,-35],[-1,-37],[9.5,-45],[1.5,-48.7],[10,-27.5],[-38,-13],[-47,-7.5],[-29,-6.2],[-21,-21],[-23,-22.5],[-24,-22.5],[-28,-22.5],[-21,-21.8],[-14.5,-17],[-7,-23.8],[-3.2,-21.8],[-8,-28],[14,-33.8],[14,-32],[10,-21],[5,-22],[19.8,-18],[20,-19],[21,-19.5],[22,-18],[22.5,-19.5],[23.5,-17],[23,-19],[24,-20],[21.5,-17],[20,-16],[13,-19],[4.5,5],[20,4],[21,4.5],[28,-5],[24.5,-7.5],[36,-2.5],[-13.5,-1.5],[-10,-0.5],[12.5,0.5],[16,-7],[6,-21.8],[-5,-13],[-2.5,-24],[3.5,-27],[-20,-31],[-11,-35],[-9,-37],[-7,-38],[-8,-39],[-7.5,-42],[-9,-42],[-11,-43],[-12,-44],[-14,-44],[-16,-43.5],[-18,-44.5],[-17.5,-42],[-16,-41],[-12,-38],[-17,-39.5],[-7,-45],[-8,-44.5],[-6,-46],[-5.5,-49],[-6,-40],[-7,-34],[-9,-34],[1,-38],[1,-37],[3,-37.5],[5,-37],[7,-38],[8,-37],[10,-38],[4,-39],[6,-40],[8,-39.5],[-1,-40],[1.5,-39.5],[4.5,-34.5],[6,-35],[2,-35],[10,-39],[12,-37],[16,-37.5],[-1,-36],[2.5,-32.5]];

const gray = [[23.8,66.4],[22,66.4],[21.1,65.5],[22.8,64.5],[25.6,66.2],[27.7,65],[26.2,64.5],[19.5,65],[17.9,64.8],[15.8,64.5],[15,64],[13.2,63],[16.2,62.6],[17.5,63.3],[21.3,63.5],[23.2,63.3],[24.8,62.6],[26.9,63.1],[27.9,62.3],[28.7,61.2],[21.5,61.6],[23.2,61.9],[17.9,60.9],[19.5,60],[21.1,60.4],[14.6,60.7],[13.4,59.9],[12.1,59],[11.7,58],[15,59],[17.3,59.5],[22,58.3],[20.5,57.2],[23,59.7],[24.8,59.5],[26.4,59.5],[25.2,60.7],[24,57.8],[23.6,56.6],[25.2,58],[26.6,56.6],[25.2,55.8],[29.1,59.5],[30.5,60.7],[31.8,59.5],[28.7,58],[32,58],[30.5,57],[28.7,56.8],[33.2,56.8],[34.4,59.2],[35.4,60],[36.9,59.2],[38.5,59.7],[34,58.3],[35.8,57.5],[36.3,56.1],[35,57],[28.7,55.4],[30.5,54.2],[32.6,54.4],[34,55.4],[35.6,53.9],[33.8,53.4],[36.3,52.7],[31,52],[29.5,52.5],[31.3,53.2],[38.7,55.4],[40.1,55.4],[42.2,55.8],[43.2,56.1],[43.2,54.6],[41.6,54.4],[39.5,54.2],[37.5,53.4],[45.2,53.3],[43.6,53],[37.9,51.8],[39.9,52],[42,51.5],[45.5,51.5],[43.6,50.6],[46.1,49.8],[48.1,49.8],[22.2,54.3],[23.6,53.2],[26.4,54.2],[26.9,52.5],[25.2,52.2],[21.8,52],[24.2,51],[26.1,51],[27.9,51.3],[27.3,49.6],[29.9,51],[30.3,49.6],[29.3,49.1],[26.2,49.1],[25.8,47.9],[27.9,46.7],[26.5,46.2],[29.5,46.2],[27.5,44.5],[28.5,44],[30.1,44.8],[31.8,45.7],[33.4,45],[35,46.2],[32.6,43.8],[36.5,44.3],[33.6,49.8],[33,48.1],[36.1,48.4],[37.1,47.4],[38.7,49.1],[37.5,46.2],[39.5,47.2],[41.2,46.2],[38.5,44.8],[40.5,43.1],[39.1,43.1],[42.8,47.2],[44.8,47.4],[42.8,45.7],[47.3,47.2],[49.1,47.7],[47.3,46.5],[50,46.2],[46.9,44.5],[44.8,44.1],[50.6,44.3],[52.2,44.1],[48.5,43.8],[46.7,43.1],[44.4,42.1],[42.8,40.9],[40.7,41.2],[38.7,41.4],[37.1,41.9],[35.2,40.6],[36.9,40],[44.8,40.5],[39.1,39],[37.5,38.5],[43.2,39],[44.8,39.2],[41.2,38.5],[40.1,37.8],[38.3,36.8],[44,37.6],[45.2,35.9],[41.6,35.7],[39.7,35.9],[38.1,34.7],[39.7,34.4],[45.2,34],[47.3,33.2],[46.5,32.3],[44,32.3],[42.8,31.8],[37.9,32.5],[37.7,31.1],[41.4,30.6],[48.3,31.3],[48.1,29.4],[50.1,30.1],[51.2,29.1],[47.7,27.7],[35.8,29.6],[34.6,31.1],[33,36.4],[32,34.4],[32.4,39.6],[30.1,39],[30.7,37.3],[32.6,36.6],[26,39.2],[25,39.2],[26.2,37.8],[23.7,35.2],[21.2,45.3],[15.8,53.2],[16.8,53.9],[18.1,52.9],[10.7,56.3],[12.1,54.9],[-1.8,49.6],[-1.8,48.9],[-7,46.7],[-5.8,46.7],[-3,46.7],[-1,47],[4,49.1],[-4.2,35.1],[-3.4,34.4],[14.6,34.2],[15.4,34.2],[22,15.7],[22,13.2],[9.5,9.6],[12.1,20.7],[31.1,13],[35.2,18.2],[15,7],[24.8,-3.6],[30,-3.2],[32.2,-1.2],[-30,27.5],[-22,21],[-8.4,18.7],[-27,17],[-22.6,16.6],[-24.3,16.5],[-17.9,2.1],[3,-5.8],[-0.8,-23],[16.2,-23.4],[25,-17],[26.7,-14.5],[-7.5,3.5],[45,-37],[36,-27],[9,-9.7],[31,47],[35,50],[37,50],[40,49],[41,50],[40,45],[43,43],[41,43.5],[35,42.5],[42,41],[43,36],[42,33.5],[25,53.5],[24,55],[28,48],[17,62],[19,62]];

const olive = [[-35,44],[-36,43.5],[-38.5,42],[-40,42],[-38,40],[-34.5,42],[-33,42],[-32,41],[-31,41.5],[-29,41.5],[-27.5,42],[-25.5,42],[-28,40],[-30,40],[-31.5,40.5],[-33,39.5],[-35,39.5],[-37,39.5],[-39,39],[-40.5,39],[-38,38],[-36,37.5],[-34,37],[-33,36.5],[-31.5,37],[-29,38],[-27,38],[-25,36.5],[-24,37.5],[-22.5,39.5],[-22,38.5],[-20,39],[-23,34],[-27.5,36],[-28,35],[-24,35.5],[-22,35],[-30,36],[-32,35.5],[-30,35],[-35,35],[-38,35],[-40,35],[-38.5,36],[-35.5,33.5],[-33,33.5],[-31,33.5],[-29,33],[-31,32],[-28,31],[-27.5,32],[-26,34],[-25.5,33],[-24.5,32],[-24,30.5],[-25,29.5],[-26.5,30],[-27,33],[-23,31],[-22,31.5],[-21,29.5],[-18.5,30],[-17,29.5],[-19,27.5],[-20,28.5],[-22,28],[-23.5,29],[-16.5,29.5],[-17.5,28],[-16,27],[-15,25],[-18,26.5],[-13,25],[-13.5,24.5],[-14,22],[-12,21],[-11,20],[-11,22],[-10,19],[-13,18],[-15,19],[-16,24],[-18,23],[-21,22],[-19,22.5],[-17,21],[-22,21.5],[-19.5,18.5],[-19,18],[-17,18],[-15,17.5],[-15,14],[-20.5,18.5],[-11,17],[-9,15.5],[-10,14],[-9,13],[-8,12],[-8,11.5],[-7,11],[-5,10],[-4,12],[-6,8.5],[-7.5,4.5],[-5,4],[-2,3.5],[-1,3.5],[-6,1],[0,0],[1,-0.5],[4.5,1],[5.5,1],[4.5,0],[6,-0.5],[5.5,-1.5],[7,-2],[7,-4.5],[2.5,-3],[2,-1],[-1,-0.5],[-3.5,3],[-3.5,-4],[-2,-2],[1,-7.5],[-5,-10],[-6,-14],[-4,-13],[-4.5,-16],[5,-6.5],[5,-9],[7,-7],[10,-9.5],[11.5,-9.5],[13,-12],[11,-19],[6,-6],[5,-13],[8,-9],[-20,-6.5],[-19,-7.5],[-21,-10],[-20,-11],[-22,-15],[-22,-16],[-27,-19],[-27.5,-21],[-25,-15],[-23,-20],[-20.5,-11],[-19,-9.5],[-19.5,-7],[-29,-22],[-48,-14.7],[-47.5,-8],[-45,-5.3],[-46,-6.5],[-45,-4],[-44,-3],[-46,-4.3],[-47,-5.2],[-48,-7.5],[-49,-9],[-51,-7],[-51,-8.5],[-52.5,-9],[-55,-5],[-57,-4],[-58,-5.5],[-58,-7],[-56,-8],[-56,-6],[-55,-8.5],[-57,-8.5],[-40,-11],[-37.5,-9.5],[-38,-6],[-37,-5.3],[-36,-5],[-40,-3],[-39,-3.2],[-41.5,-3],[-42,-2],[-43,-1],[-44,-2],[-45.5,-7.5],[-44,-8],[-46,-8.5],[-46,-10.5],[-50.5,-10],[-59,3.5],[-62,2],[-63,2.5],[-63,0.3],[-61,1],[-60,0.3],[-62,-1],[-61,-0.5],[-65.5,-0.5],[-60,-2],[-60.5,-3.5],[-58.5,-4],[-52,-8],[-47.5,2],[-50,3],[-58,15],[-57,15.5],[-59,14.7],[-59.5,8],[-49,17.5],[-44,13],[-44,13.2],[-35,18.5],[-34,18.5],[-32,18.5],[-43.9,16],[-34,14],[-34.5,8],[-32,15],[-31.5,18.7],[-30,18.5],[-47,9.5],[-50,6],[-30,14],[-27,7.5],[-28.5,9],[-29,4],[-28,8],[-23,19],[-21,18],[-20,18],[-18,18],[-18,17],[-16,21],[-15,16],[-16,13],[-20,14],[-22,11],[-20,16],[-5.5,22],[-7,23],[-9,21],[-5,45],[-3,44],[1,45.5],[3,46],[0,46],[2,44],[-1,39],[-5.5,39.5],[0.5,42],[3.5,45],[-3,37.5],[5,36],[7.5,37],[4,36],[9,53],[10,54],[11,55],[10.5,56],[29,58],[34,38.5],[49,28],[46,-28],[37,-37],[36.5,-37.2],[40,-39.5],[41,-39.7],[41,-40],[19,-38],[20,-37.5],[21,-37],[21.5,-36.5],[19.5,-37.5],[15,-31.5],[14,-34],[-14,30],[-37,7],[-37.5,8],[-2,-13],[-0.5,-9],[11,-9],[24,-13.5],[24,-15],[3,15.8],[-17.5,14],[-35,3.5],[-22,-6],[-21,-6],[-34,40.5],[-32,40],[-36.5,41],[-30,37],[-26,39],[-28,37],[-26,32],[-25,31],[-23,32.5],[-21,30.5],[-25,34.5],[-24,33],[-26.5,35],[-20,27],[-18.5,25],[-14,23.5],[-12.5,22.5],[-12,19.5],[-16,22.5],[-21,20.5],[-25,31.5],[-23,30],[-27,31],[-22,32.5],[-29,36.5]];

const cyan = [[-4,39],[-2,38],[-1,37.5],[0,41],[1,40],[2,39],[0,44],[1,45],[2,44.5],[3,44],[0.5,42],[-0.5,43],[-1,41],[-3,40.5],[-5,38.5],[-4,37],[-2,36.5],[-2,35],[0,35],[2,37],[3.5,41],[3,38.5],[5,40],[5,38],[4,36],[6,36],[2,36],[0,33.5],[1,33.5],[-1,33],[-3,33],[-5,32.5],[-4,32],[-2,30.5],[-7,42.5],[-5.5,42.5],[0.5,47],[3.5,49],[4,49],[3,31],[2.5,29],[5,30],[6,30],[4,27],[3.5,24],[5,23.5],[6,25],[5,25],[9,46],[9,48],[10,46],[11,46],[13,45.5],[14,47],[9,43],[11,44],[13,43.5],[15,44],[16,44],[17,43],[8,44],[7.5,45],[9,42],[11,42],[13,42],[15,41.5],[16,43],[18,42],[19,41],[9,40],[10,38.5],[12,39],[14,38],[14,40],[15,38],[15.5,37],[16,40],[18,41],[10,37],[9.5,36],[13,35],[13,36],[10,34],[10,32],[8,32],[8,31],[9,30],[11,31],[12,32],[11,29],[9,29],[8,28],[7,29],[11,27],[9,27],[9,26],[10,25],[8,26],[12,25],[10,24],[14,26],[15,24],[17,31],[18,31],[15,30],[16,29],[14,31],[19,30],[20,30],[20,29],[16,27],[17,26],[19,26],[20,27],[21,28],[22,27],[18,28],[13,22.5],[14,23],[16,22],[21.5,24.5],[20,24],[22,21.5],[21,22],[23,20],[23,19],[24,37],[24,37.5],[26,38],[27,36],[26,34.5],[27,34],[28,33],[29,35],[27,32],[29,30],[30,28],[31,28],[32,29],[33,28],[34,27],[32,26],[30,26],[31,25],[33,25],[34,24],[35,26],[36,25],[36,27],[38,27],[38,26],[30,24],[31,23],[33,23],[32,22],[29,24],[29,23],[28.5,21],[30,21],[32,21],[34,19.5],[37,19],[35,18],[34,15.5],[37.5,21],[36.5,22],[38,23],[39,23.5],[40,23],[43,22.5],[44,23.5],[41,24],[41,22],[42,20],[43,20],[45,20],[38,16],[40,17],[41,19],[43,18],[44,18],[45,17],[39,14],[39,13],[42,13],[47,24.5],[47.5,26],[49,26],[50,26],[50,27.5],[52,28],[53.5,24],[51.5,43.5],[46,41],[36.5,43.5],[35,43.5],[33.5,48],[37,30],[40,29],[42,32],[44,30],[44,31],[34,1],[33,3],[34,4],[36,2],[36.5,0],[35,-0.5],[37,-1],[38,-0.5],[-7,19],[0,16.5],[-1,18],[2,21],[3,20],[4,19],[4.5,15],[6,14],[7,14],[8,16],[9,17],[10,17],[10,19],[6,18],[7,19],[8,19],[11,15],[12,13],[13,15],[14,14],[2,12.5],[3,11],[4,12],[5,13],[6,12.5],[8,13],[1,11],[0,10.5],[7,11],[8,10],[8.5,12],[-2.5,13],[-3,12],[-4,24],[-3,27],[-0.5,22],[9,36],[9.5,8],[13,10],[20,7.5],[23,33],[16,55.8],[-13,-4],[-34,-6],[-52,20.3],[-35,8.5],[-63,-1.5],[-62,-1.7],[-60,-2],[-63,-5.3],[-56,-7],[-56,-7.2],[-14,28],[-20,39.5],[-12,22.5],[-11,22.5],[-8,23],[-7.5,23],[-2,13],[-1,12.5],[0.5,0.8],[0.5,4.3],[-4,22],[67,-9],[14,18],[16,31],[24.5,38],[32,22.5],[1,42],[2,41],[-1,39],[3,42],[-2,40],[0,37],[2,35],[-3,38],[11,40],[13,40],[12,43],[10,41],[14,43],[16,41],[9,28],[10,30],[12,29],[10,27],[12,27],[11,33],[8,29.5],[18,30],[17,28],[19,28],[16,30],[31,27],[33,26],[35,25],[32,27],[34,25.5],[30,25],[36,26]];

// order follows the plotting order of the original, last series on top
const seriesData = [blue, orange, green, red, purple, brown, pink, gray, olive, cyan];
const seriesColors = ['#1f77b4','#ff7f0e','#2ca02c','#d62728','#9467bd','#8c564b','#e377c2','#7f7f7f','#bcbd22','#17becf'];

const frame = {
    id: 'frame',
    afterDraw(chart) {
        const { ctx, chartArea: a } = chart;
        ctx.save();
        ctx.strokeStyle = '#000';
        ctx.lineWidth = 2.8;
        ctx.strokeRect(a.left, a.top, a.right - a.left, a.bottom - a.top);
        ctx.restore();
    }
};

const tickLabel = v => String(v).replace('-', '\u2212');

new Chart(document.getElementById('tsne'), {
    type: 'scatter',
    data: {
        datasets: seriesData.map((pts, i) => ({
            data: pts.map(p => ({ x: p[0], y: p[1] })),
            backgroundColor: seriesColors[i],
            borderWidth: 0,
            pointRadius: 12.5,
            order: seriesData.length - i
        }))
    },
    options: {
        responsive: false,
        animation: false,
        layout: { autoPadding: false, padding: { left: 0, top: 300, right: 250, bottom: 0 } },
        plugins: { legend: { display: false }, tooltip: { enabled: false } },
        scales: {
            x: {
                type: 'linear', min: -73, max: 82.2,
                afterBuildTicks: s => { s.ticks = xTicks.map(v => ({ value: v })); },
                afterFit: s => { s.height = 275; },
                grid: { drawOnChartArea: false, tickLength: 12, tickColor: '#000', tickWidth: 2.8 },
                border: { display: false },
                ticks: { color: '#000', padding: 4, maxRotation: 0, autoSkip: false,
                    font: { family: 'DejaVu Sans', size: 104 }, callback: tickLabel }
            },
            y: {
                type: 'linear', min: -71.7, max: 73.6,
                afterBuildTicks: s => { s.ticks = yTicks.map(v => ({ value: v })); },
                afterFit: s => { s.width = 312.5; },
                grid: { drawOnChartArea: false, tickLength: 12, tickColor: '#000', tickWidth: 2.8 },
                border: { display: false },
                // two-line label with a small line height nudges the text down a few pixels
                ticks: { color: '#000', padding: 12, autoSkip: false,
                    font: { family: 'DejaVu Sans', size: 104, lineHeight: '12px' },
                    callback: v => ['', tickLabel(v)] }
            }
        }
    },
    plugins: [frame]
});
</script>
</body>
</html>
